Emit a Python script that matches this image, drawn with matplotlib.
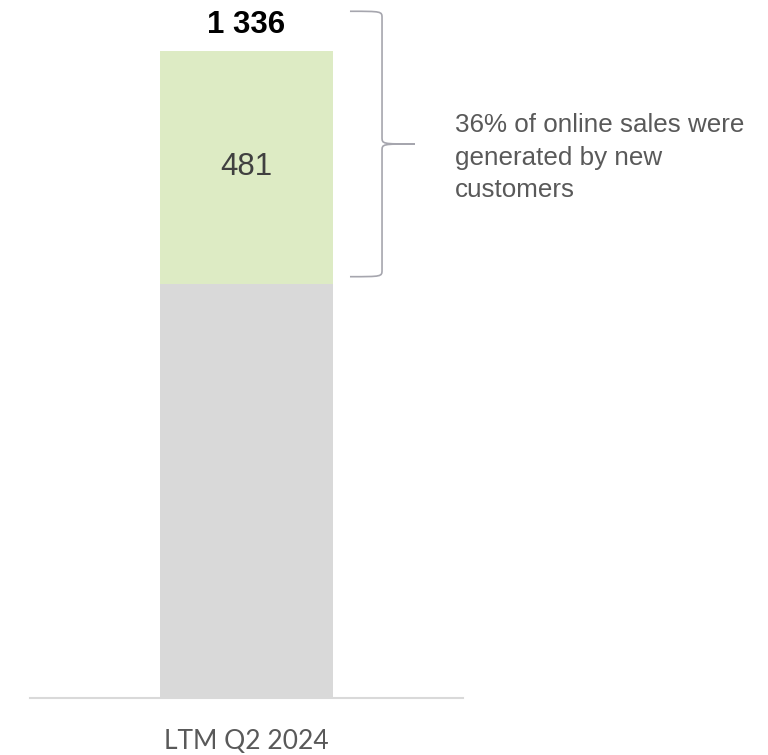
import matplotlib.pyplot as plt
from matplotlib.path import Path
from matplotlib.patches import PathPatch

# online sales, LTM Q2 2024
categories = ["LTM Q2 2024"]
returning = [855]
new_customers = [481]
totals = [r + n for r, n in zip(returning, new_customers)]
share_new = round(100 * new_customers[0] / totals[0])
note = f"{share_new}% of online sales were\ngenerated by new\ncustomers"

fig = plt.figure(figsize=(7.68, 7.55), dpi=100)
ax = fig.add_axes([30 / 768, 57 / 755, 433 / 768, 647 / 755])

x = range(len(categories))
ax.bar(x, returning, width=0.4, color="#D9D9D9", zorder=2)
ax.bar(x, new_customers, bottom=returning, width=0.4, color="#DDEBC4", zorder=2)

ax.set_xlim(-0.5, 0.5)
ax.set_ylim(0, totals[0])

for side in ["top", "right", "left"]:
    ax.spines[side].set_visible(False)
ax.spines["bottom"].set_color("#D9D9D9")
ax.spines["bottom"].set_linewidth(1.5)
ax.set_yticks([])
ax.set_xticks(list(x))
ax.set_xticklabels(categories, family="Lato", fontsize=19, color="#595959")
ax.tick_params(axis="x", length=0, pad=22)

for i in x:
    ax.text(i, totals[i] + 38, f"{totals[i]:,}".replace(",", " "),
            ha="center", va="baseline", fontsize=22.5, fontweight="bold",
            family="Liberation Sans", color="black", clip_on=False)
    ax.text(i, returning[i] + new_customers[i] * 0.5, str(new_customers[i]),
            ha="center", va="center", fontsize=22.5, family="Liberation Sans",
            color="#404040")

# curly brace around the new-customer segment
y_bot = returning[0] + 15
y_top = totals[0] + 82
y_mid = (y_bot + y_top) / 2
x0, x1, x2 = 0.239, 0.313, 0.389
r = 14
verts = [
    (x0, y_top), (x1, y_top), (x1, y_top), (x1, y_top - r),
    (x1, y_mid + r),
    (x1, y_mid), (x1, y_mid), (x2, y_mid),
    (x1, y_mid), (x1, y_mid), (x1, y_mid - r),
    (x1, y_bot + r),
    (x1, y_bot), (x1, y_bot), (x0, y_bot),
]
codes = [Path.MOVETO, Path.CURVE4, Path.CURVE4, Path.CURVE4,
         Path.LINETO,
         Path.CURVE4, Path.CURVE4, Path.CURVE4,
         Path.CURVE4, Path.CURVE4, Path.CURVE4,
         Path.LINETO,
         Path.CURVE4, Path.CURVE4, Path.CURVE4]
brace = PathPatch(Path(verts, codes), facecolor="none", edgecolor="#A6A6AE",
                  linewidth=1.2, clip_on=False)
ax.add_patch(brace)

ax.text(455 / 768, 1 - 113 / 755, note, transform=fig.transFigure,
        ha="left", va="top", fontsize=18.7, family="Liberation Sans",
        color="#595959", linespacing=1.45)

plt.savefig("out.png", dpi=100)
plt.close()
